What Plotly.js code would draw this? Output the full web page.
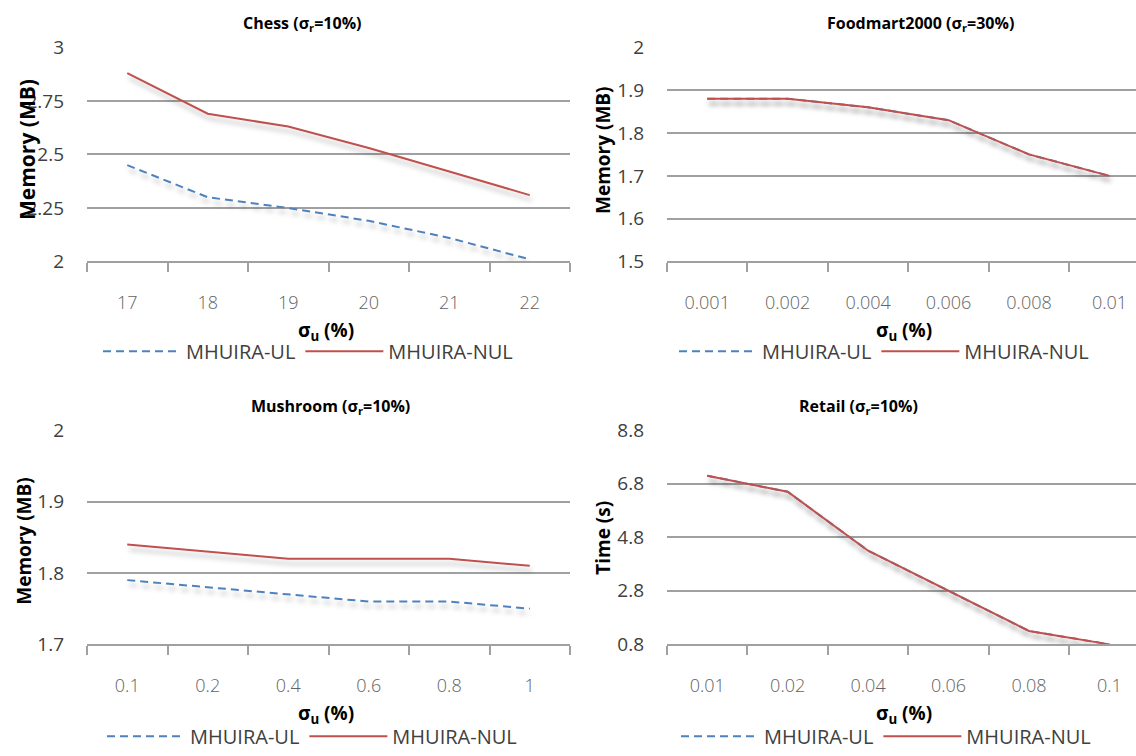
<!DOCTYPE html>
<html>
<head>
<meta charset="utf-8">
<script src="https://cdn.plot.ly/plotly-3.0.1.min.js"></script>
<style>
  html, body { margin: 0; padding: 0; background: #fff; }
  #chart { width: 1136px; height: 756px; }
  .cartesianlayer .scatterlayer .js-line { filter: drop-shadow(2px 5px 2.5px rgba(0,0,0,0.28)); }
</style>
</head>
<body>
<div id="chart"></div>
<script>
// ---- data ----
const chessX = ['17', '18', '19', '20', '21', '22'];
const chessUL = [2.45, 2.30, 2.25, 2.19, 2.11, 2.01];
const chessNUL = [2.88, 2.69, 2.63, 2.53, 2.42, 2.31];

const foodX = ['0.001', '0.002', '0.004', '0.006', '0.008', '0.01'];
const foodUL = [1.88, 1.88, 1.86, 1.83, 1.75, 1.70];
const foodNUL = [1.88, 1.88, 1.86, 1.83, 1.75, 1.70];

const mushX = ['0.1', '0.2', '0.4', '0.6', '0.8', '1'];
const mushUL = [1.79, 1.78, 1.77, 1.76, 1.76, 1.75];
const mushNUL = [1.84, 1.83, 1.82, 1.82, 1.82, 1.81];

const retailX = ['0.01', '0.02', '0.04', '0.06', '0.08', '0.1'];
const retailUL = [7.1, 6.5, 4.3, 2.8, 1.3, 0.8];
const retailNUL = [7.1, 6.5, 4.3, 2.8, 1.3, 0.8];

const seriesNames = ['MHUIRA-UL', 'MHUIRA-NUL'];
const chartTitles = ['Chess (σ<sub>r</sub>=10%)', 'Foodmart2000 (σ<sub>r</sub>=30%)', 'Mushroom (σ<sub>r</sub>=10%)', 'Retail (σ<sub>r</sub>=10%)'];
const yTitles = ['Memory (MB)', 'Memory (MB)', 'Memory (MB)', 'Time (s)'];
const xTitle = 'σ<sub>u</sub> (%)';

// ---- styling / layout helpers ----
const W = 1136, H = 756;
const px = v => v / W;
const py = v => 1 - v / H;
const BLUE = '#4F81BD', RED = '#C0504D';
const GRID = '#a0a0a0';
const FONT = 'Open Sans, Liberation Sans, sans-serif';

const panels = [
  {x: chessX, ul: chessUL, nul: chessNUL, xa: 'x', ya: 'y', lg: 'legend'},
  {x: foodX, ul: foodUL, nul: foodNUL, xa: 'x2', ya: 'y2', lg: 'legend2'},
  {x: mushX, ul: mushUL, nul: mushNUL, xa: 'x3', ya: 'y3', lg: 'legend3'},
  {x: retailX, ul: retailUL, nul: retailNUL, xa: 'x4', ya: 'y4', lg: 'legend4'}
];

const traces = [];
panels.forEach(p => {
  traces.push({x: p.x, y: p.ul, name: seriesNames[0], type: 'scatter', mode: 'lines',
    xaxis: p.xa, yaxis: p.ya, legend: p.lg,
    line: {color: BLUE, width: 2, dash: '8px,5px'}, hoverinfo: 'x+y'});
  traces.push({x: p.x, y: p.nul, name: seriesNames[1], type: 'scatter', mode: 'lines',
    xaxis: p.xa, yaxis: p.ya, legend: p.lg,
    line: {color: RED, width: 2}, hoverinfo: 'x+y'});
});

function xAxis(domain, range, anchor) {
  return {
    type: 'category', domain: domain, range: range, anchor: anchor,
    showgrid: false, zeroline: false,
    showline: true, linecolor: GRID, linewidth: 2,
    ticks: 'outside', tickson: 'boundaries', ticklen: 9, tickwidth: 2, tickcolor: GRID,
    tickfont: {family: FONT, size: 18, color: '#636363', weight: 300},
    ticklabelstandoff: 24, fixedrange: true
  };
}
function yAxis(domain, range, dtick, anchor) {
  return {
    domain: domain, range: range, dtick: dtick, tick0: range[0], anchor: anchor,
    showgrid: true, gridcolor: GRID, gridwidth: 2,
    zeroline: false, showline: false, ticks: '',
    tickfont: {family: FONT, size: 19, color: '#404040'},
    ticklabelstandoff: 22, fixedrange: true
  };
}

const topY = [py(265), py(48)];
const botY = [py(653), py(436)];
const leftX = [px(87), px(570)];
const rightX = [px(667), 1];
const rightRange = [-0.5, 5.33];

function legendAt(cx, cy) {
  return {
    orientation: 'h', x: px(cx), xanchor: 'center', y: py(cy), yanchor: 'middle',
    font: {family: FONT, size: 20, color: '#404040'},
    itemwidth: 78, bgcolor: 'rgba(0,0,0,0)', traceorder: 'normal',
    itemclick: false, itemdoubleclick: false
  };
}

const ann = [];
const titlePos = [[302, 24], [921, 24], [330, 412], [858, 412]];
titlePos.forEach((t, i) => ann.push({text: chartTitles[i], x: px(t[0]), y: py(t[1]),
  xref: 'paper', yref: 'paper', showarrow: false, xanchor: 'center', yanchor: 'middle',
  font: {family: FONT, size: 16, color: '#000', weight: 'bold'}}));
const yTitleSize = [21, 19, 19, 19];
const yTitlePos = [[27, 152], [603, 152], [24, 548], [603, 545]];
yTitlePos.forEach((t, i) => ann.push({text: yTitles[i], x: px(t[0]), y: py(t[1]),
  xref: 'paper', yref: 'paper', showarrow: false, xanchor: 'center', yanchor: 'middle',
  textangle: -90, font: {family: FONT, size: yTitleSize[i], color: '#000', weight: 'bold'}}));
const xTitlePos = [[326, 335], [904, 335], [326, 724], [904, 724]];
xTitlePos.forEach(t => ann.push({text: xTitle, x: px(t[0]), y: py(t[1]),
  xref: 'paper', yref: 'paper', showarrow: false, xanchor: 'center', yanchor: 'middle',
  font: {family: FONT, size: 19, color: '#000', weight: 'bold'}}));

const layout = {
  width: W, height: H,
  margin: {l: 0, r: 0, t: 0, b: 0},
  paper_bgcolor: '#fff', plot_bgcolor: 'rgba(0,0,0,0)',
  showlegend: true,
  xaxis: xAxis(leftX, [-0.5, 5.5], 'y'),
  yaxis: yAxis(topY, [2, 3], 0.25, 'x'),
  xaxis2: xAxis(rightX, rightRange, 'y2'),
  yaxis2: yAxis(topY, [1.5, 2], 0.1, 'x2'),
  xaxis3: xAxis(leftX, [-0.5, 5.5], 'y3'),
  yaxis3: yAxis(botY, [1.7, 2], 0.1, 'x3'),
  xaxis4: xAxis(rightX, rightRange, 'y4'),
  yaxis4: yAxis(botY, [0.8, 8.8], 2, 'x4'),
  legend: legendAt(308, 356),
  legend2: legendAt(884, 356),
  legend3: legendAt(312, 746),
  legend4: legendAt(886, 746),
  annotations: ann
};

Plotly.newPlot('chart', traces, layout, {displayModeBar: false});
</script>
</body>
</html>
